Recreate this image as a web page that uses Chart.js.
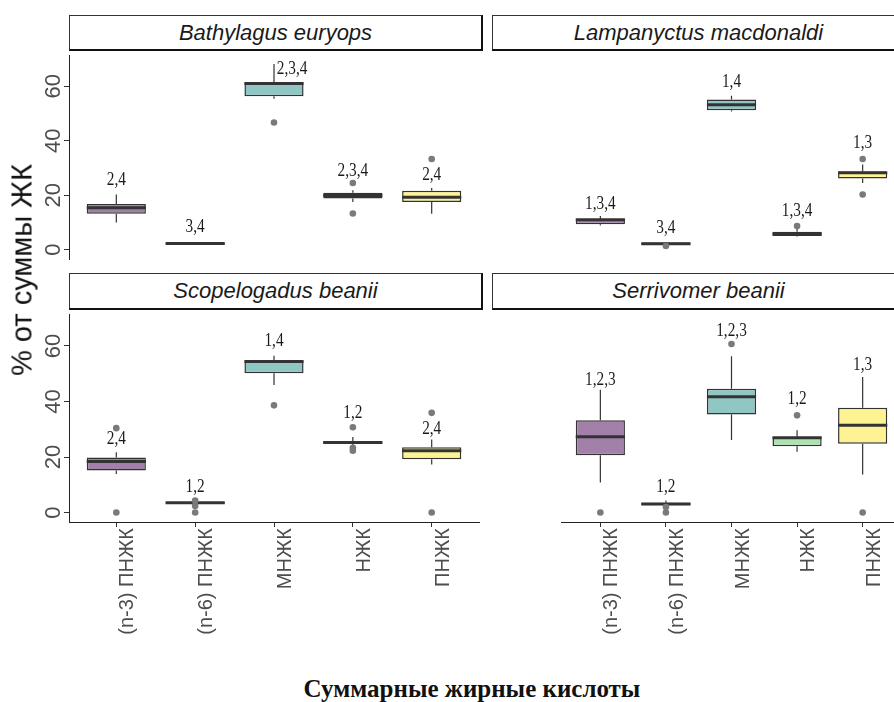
<!DOCTYPE html>
<html><head><meta charset="utf-8">
<script src="https://cdn.jsdelivr.net/npm/chart.js@4/dist/chart.umd.min.js"></script>
<style>
html,body{margin:0;padding:0;background:#fff;}
body{width:894px;height:702px;overflow:hidden;position:relative;}
canvas{position:absolute;}
.strip{position:absolute;box-sizing:border-box;background:#fff;border-top:1px solid #333;border-left:1px solid #333;border-right:2px solid #111;border-bottom:2px solid #111;font:italic 22px 'Liberation Sans',Arial,sans-serif;color:#1a1a1a;display:flex;align-items:center;justify-content:center;white-space:nowrap;}
.ytitle{position:absolute;left:22px;top:270px;transform:translate(-50%,-50%) rotate(-90deg);font:29px 'Liberation Sans',Arial,sans-serif;color:#111;white-space:nowrap;}
.xtitle{position:absolute;left:472px;top:689px;transform:translate(-50%,-50%);font:bold 25px 'Liberation Serif','Times New Roman',serif;color:#111;white-space:nowrap;}
</style></head>
<body>
<script>
// ---- data ----
const categories = ['(n-3) ПНЖК', '(n-6) ПНЖК', 'МНЖК', 'НЖК', 'ПНЖК'];
const species = ['Bathylagus euryops', 'Lampanyctus macdonaldi', 'Scopelogadus beanii', 'Serrivomer beanii'];
const yTicks = [0, 20, 40, 60];

// per panel (species order), per category
const q1Values = [
  [13.2, 1.9, 56.4, 18.8, 17.5],
  [9.4, 1.8, 51.2, 5.0, 26.2],
  [15.1, 3.2, 50.2, 24.7, 19.2],
  [20.6, 2.6, 35.3, 23.9, 24.8]
];
const medianValues = [
  [15.4, 2.3, 61.0, 19.9, 19.3],
  [11.0, 2.2, 53.2, 5.8, 28.3],
  [18.4, 3.5, 54.4, 25.2, 22.3],
  [27.3, 3.1, 41.7, 26.9, 31.4]
];
const q3Values = [
  [16.8, 2.6, 61.5, 20.9, 21.7],
  [11.2, 2.7, 55.2, 6.6, 28.7],
  [19.8, 3.8, 54.7, 25.8, 23.5],
  [33.2, 3.5, 44.6, 27.2, 37.7]
];
const whiskerLow = [
  [10.0, 1.8, 55.4, 17.5, 13.2],
  [8.9, 1.7, 50.8, 4.9, 24.5],
  [13.9, 3.0, 45.9, 24.3, 17.3],
  [10.8, 2.4, 26.1, 21.9, 13.7]
];
const whiskerHigh = [
  [20.3, 2.8, 68.2, 21.8, 22.7],
  [12.4, 2.8, 56.5, 8.0, 31.3],
  [21.7, 4.0, 56.5, 27.2, 26.3],
  [44.2, 4.3, 56.3, 29.6, 48.8]
];
const outlierValues = [
  [[], [], [46.7], [24.5, 13.3], [33.3]],
  [[], [1.4], [], [8.7], [33.3, 20.3]],
  [[30.4, 0], [4.3, 2.4, 0], [38.6], [30.7, 23.3, 22.3], [35.9, 0]],
  [[0], [2.0, 0], [60.7], [35.0], [0]]
];
const groupLabels = [
  ['2,4', '3,4', '2,3,4', '2,3,4', '2,4'],
  ['1,3,4', '3,4', '1,4', '1,3,4', '1,3'],
  ['2,4', '1,2', '1,4', '1,2', '2,4'],
  ['1,2,3', '1,2', '1,2,3', '1,2', '1,3']
];
const groupLabelY = [
  [25.4, 8.3, 66.2, 28.7, 27.2],
  [16.5, 7.7, 61.5, 14.2, 39.0],
  [26.3, 9.0, 61.8, 35.7, 30.1],
  [47.7, 9.0, 65.4, 40.7, 53.0]
];
const groupLabelShift = [
  [0, 0, 0.23, 0, 0],
  [0, 0, 0, 0, 0],
  [0, 0, 0, 0, 0],
  [0, 0, 0, 0, 0]
];

// ---- styles ----
const fillColors = ['#A280AA', '#9DA8C5', '#90C7C5', '#AEE3B1', '#FEF392'];
const Y_MIN = -3.4, Y_MAX = 71.5;

const panels = [
  {x: 0,   y: 51,  w: 483, h: 212, showY: true,  showX: false, sx: 69,  sy: 15,  sh: 36},
  {x: 492, y: 51,  w: 414, h: 212, showY: false, showX: false, sx: 492, sy: 15,  sh: 36},
  {x: 0,   y: 310, w: 483, h: 352, showY: true,  showX: true,  sx: 69,  sy: 273, sh: 37},
  {x: 492, y: 310, w: 414, h: 352, showY: false, showX: true,  sx: 492, sy: 273, sh: 37}
];

const boxPlugin = {
  id: 'boxparts',
  beforeDatasetsDraw(chart) {
    const p = chart.options.plugins.boxparts.panel;
    const xs = chart.scales.x, ys = chart.scales.y, ctx = chart.ctx;
    ctx.save();
    ctx.strokeStyle = '#333';
    ctx.lineWidth = 1.2;
    categories.forEach((c, i) => {
      const x = xs.getPixelForValue(i);
      ctx.beginPath();
      ctx.moveTo(x, ys.getPixelForValue(q3Values[p][i]));
      ctx.lineTo(x, ys.getPixelForValue(whiskerHigh[p][i]));
      ctx.moveTo(x, ys.getPixelForValue(q1Values[p][i]));
      ctx.lineTo(x, ys.getPixelForValue(whiskerLow[p][i]));
      ctx.stroke();
    });
    ctx.restore();
  },
  afterDatasetDraw(chart, args) {
    if (args.index !== 0) return;
    const p = chart.options.plugins.boxparts.panel;
    const ys = chart.scales.y, ctx = chart.ctx;
    const meta = chart.getDatasetMeta(0);
    ctx.save();
    ctx.strokeStyle = '#333';
    ctx.lineWidth = 3;
    ctx.lineCap = 'butt';
    meta.data.forEach((el, i) => {
      const y = ys.getPixelForValue(medianValues[p][i]);
      ctx.beginPath();
      ctx.moveTo(el.x - el.width / 2, y);
      ctx.lineTo(el.x + el.width / 2, y);
      ctx.stroke();
    });
    ctx.restore();
  },
  afterDraw(chart) {
    const o = chart.options.plugins.boxparts;
    const p = o.panel;
    const xs = chart.scales.x, ys = chart.scales.y, ctx = chart.ctx;
    // group annotations
    ctx.save();
    ctx.fillStyle = '#1a1a1a';
    ctx.font = '17px "Liberation Serif", "Times New Roman", serif';
    ctx.textAlign = 'center';
    ctx.textBaseline = 'middle';
    categories.forEach((c, i) => {
      const x = xs.getPixelForValue(i + groupLabelShift[p][i]);
      const y = ys.getPixelForValue(groupLabelY[p][i]);
      ctx.save();
      ctx.translate(x, y);
      ctx.scale(0.9, 1.05);
      ctx.fillText(groupLabels[p][i], 0, 0);
      ctx.restore();
    });
    ctx.restore();
    // y tick labels
    if (o.showY) {
      ctx.save();
      ctx.fillStyle = '#4d4d4d';
      ctx.font = '22px "Liberation Sans", Arial, sans-serif';
      ctx.textAlign = 'center';
      ctx.textBaseline = 'middle';
      yTicks.forEach(v => {
        ctx.save();
        ctx.translate(54, ys.getPixelForValue(v));
        ctx.rotate(-Math.PI / 2);
        ctx.fillText(String(v), 0, 0);
        ctx.restore();
      });
      ctx.restore();
    }
    // x tick labels
    if (o.showX) {
      ctx.save();
      ctx.fillStyle = '#4d4d4d';
      ctx.font = '20px "Liberation Sans", Arial, sans-serif';
      ctx.textAlign = 'right';
      ctx.textBaseline = 'alphabetic';
      const top = chart.chartArea.bottom + 6;
      categories.forEach((c, i) => {
        ctx.save();
        ctx.translate(xs.getPixelForValue(i) + 17, top);
        ctx.rotate(-Math.PI / 2);
        ctx.fillText(c, 0, 0);
        ctx.restore();
      });
      ctx.restore();
    }
  }
};

panels.forEach((g, p) => {
  const strip = document.createElement('div');
  strip.className = 'strip';
  strip.style.left = g.sx + 'px';
  strip.style.top = g.sy + 'px';
  strip.style.width = '414px';
  strip.style.height = g.sh + 'px';
  strip.textContent = species[p];
  document.body.appendChild(strip);

  const canvas = document.createElement('canvas');
  canvas.width = g.w; canvas.height = g.h;
  canvas.style.left = g.x + 'px';
  canvas.style.top = g.y + 'px';
  canvas.style.width = g.w + 'px';
  canvas.style.height = g.h + 'px';
  document.body.appendChild(canvas);

  const boxData = categories.map((c, i) => ({x: i, y: [q1Values[p][i], q3Values[p][i]]}));
  const outlierData = [];
  outlierValues[p].forEach((arr, i) => arr.forEach(v => outlierData.push({x: i, y: v})));

  new Chart(canvas, {
    type: 'bar',
    data: {
      datasets: [
        {type: 'bar', data: boxData, backgroundColor: fillColors, borderColor: '#333', borderWidth: 1.5,
         borderSkipped: false, barPercentage: 0.75, categoryPercentage: 1, order: 2},
        {type: 'scatter', data: outlierData, pointRadius: 3.3, pointBackgroundColor: '#7a7a7a',
         pointBorderWidth: 0, pointBorderColor: '#7a7a7a', order: 1, clip: false}
      ]
    },
    options: {
      responsive: false, animation: false, devicePixelRatio: 1,
      layout: {padding: 0},
      plugins: {legend: {display: false}, tooltip: {enabled: false},
        boxparts: {panel: p, showX: g.showX, showY: g.showY}},
      scales: {
        x: {
          type: 'linear', min: -0.6, max: 4.6, offset: false, display: g.showX,
          grid: {offset: false, drawOnChartArea: false, drawTicks: true, tickLength: 5, color: '#333', lineWidth: 1},
          border: {display: true, color: '#222', width: 1},
          ticks: {display: false},
          afterBuildTicks: s => { s.ticks = categories.map((c, i) => ({value: i})); },
          afterFit: s => { s.height = g.h - 212; }
        },
        y: {
          type: 'linear', min: Y_MIN, max: Y_MAX, display: g.showY, position: 'left',
          grid: {offset: false, drawOnChartArea: false, drawTicks: true, tickLength: 5, color: '#333', lineWidth: 1},
          border: {display: true, color: '#222', width: 1},
          ticks: {display: false},
          afterBuildTicks: s => { s.ticks = yTicks.map(v => ({value: v})); },
          afterFit: s => { s.width = 69; }
        }
      }
    },
    plugins: [boxPlugin]
  });
});

const yt = document.createElement('div');
yt.className = 'ytitle';
yt.textContent = '% от суммы ЖК';
document.body.appendChild(yt);
const xt = document.createElement('div');
xt.className = 'xtitle';
xt.textContent = 'Суммарные жирные кислоты';
document.body.appendChild(xt);
</script>
</body></html>
